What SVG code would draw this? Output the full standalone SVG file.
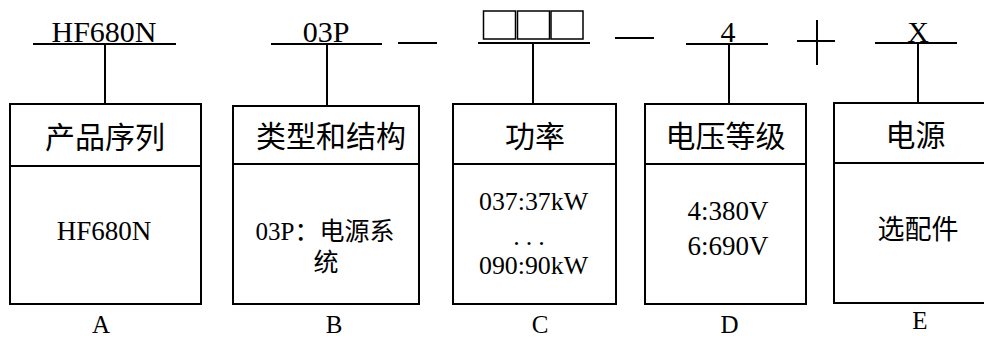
<svg xmlns="http://www.w3.org/2000/svg" width="984" height="338" viewBox="0 0 984 338">
<style>
.ln{stroke:#000;stroke-width:2;fill:none}
.bx{stroke:#000;stroke-width:2;fill:#fff}
.t{font-family:'Liberation Serif','Noto Sans CJK SC',serif;fill:#000;text-anchor:middle}
.h{font-size:30px}
.c{font-size:30px}
.b{font-size:27px}
.cj{font-size:25px}
.lb{font-size:25px}
</style>
<rect width="984" height="338" fill="#fff"/>
<g id="code">
  <text class="t c" x="104" y="42">HF680N</text>
  <text class="t c" x="326" y="42">03P</text>
  <text class="t c" x="728" y="42">4</text>
  <text class="t c" x="918" y="42">X</text>
  <g class="ln" style="stroke-width:1.5">
    <rect x="483.5" y="11" width="32" height="28"/>
    <rect x="517.5" y="11" width="32" height="28"/>
    <rect x="551" y="11" width="32" height="28"/>
  </g>
  <line class="ln" x1="398" y1="43" x2="437" y2="43"/>
  <line class="ln" x1="615" y1="38" x2="654" y2="38"/>
  <line class="ln" x1="797" y1="41" x2="835" y2="41"/>
  <line class="ln" x1="817" y1="20" x2="817" y2="65"/>
</g>
<g id="connectors">
  <line class="ln" x1="33" y1="44" x2="176" y2="44"/>
  <line class="ln" x1="105" y1="44" x2="105" y2="104"/>
  <line class="ln" x1="271" y1="44" x2="382" y2="44"/>
  <line class="ln" x1="327" y1="44" x2="327" y2="106"/>
  <line class="ln" x1="478" y1="43" x2="590" y2="43"/>
  <line class="ln" x1="533" y1="43" x2="533" y2="104"/>
  <line class="ln" x1="686" y1="44" x2="768" y2="44"/>
  <line class="ln" x1="729" y1="44" x2="729" y2="104"/>
  <line class="ln" x1="875" y1="43" x2="957" y2="43"/>
  <line class="ln" x1="918" y1="43" x2="918" y2="103"/>
</g>
<g id="nodeA">
  <rect class="bx" x="10" y="104" width="191" height="200"/>
  <line class="ln" x1="10" y1="166" x2="201" y2="166"/>
  <text class="t h" x="105" y="148">产品序列</text>
  <text class="t b" x="104" y="240">HF680N</text>
  <text class="t lb" x="101" y="333">A</text>
</g>
<g id="nodeB">
  <rect class="bx" x="233" y="106" width="186" height="198"/>
  <line class="ln" x1="233" y1="164" x2="419" y2="164"/>
  <text class="t h" x="331" y="147">类型和结构</text>
  <text class="t" x="325" y="240"><tspan style="font-size:25px">03P：</tspan><tspan class="cj">电源系</tspan></text>
  <text class="t cj" x="326" y="271">统</text>
  <text class="t lb" x="334" y="333">B</text>
</g>
<g id="nodeC">
  <rect class="bx" x="453" y="104" width="163" height="200"/>
  <line class="ln" x1="453" y1="164" x2="616" y2="164"/>
  <text class="t h" x="535" y="147">功率</text>
  <text class="t" style="font-size:26px" x="533.5" y="210" textLength="109" lengthAdjust="spacingAndGlyphs">037:37kW</text>
  <text class="t" style="font-size:26px" x="532" y="245" letter-spacing="6">...</text>
  <text class="t" style="font-size:26px" x="533.5" y="274" textLength="109" lengthAdjust="spacingAndGlyphs">090:90kW</text>
  <text class="t lb" x="540" y="333">C</text>
</g>
<g id="nodeD">
  <rect class="bx" x="645" y="104" width="161" height="200"/>
  <line class="ln" x1="645" y1="164" x2="806" y2="164"/>
  <text class="t h" x="725.5" y="147">电压等级</text>
  <text class="t b" x="728" y="220">4:380V</text>
  <text class="t b" x="728" y="255">6:690V</text>
  <text class="t lb" x="729.5" y="333">D</text>
</g>
<g id="nodeE">
  <rect class="bx" x="834" y="103" width="170" height="200"/>
  <line class="ln" x1="834" y1="163" x2="1004" y2="163"/>
  <text class="t h" x="915.5" y="146">电源</text>
  <text class="t b" x="918" y="239">选配件</text>
  <text class="t lb" x="920" y="329">E</text>
</g>
</svg>
